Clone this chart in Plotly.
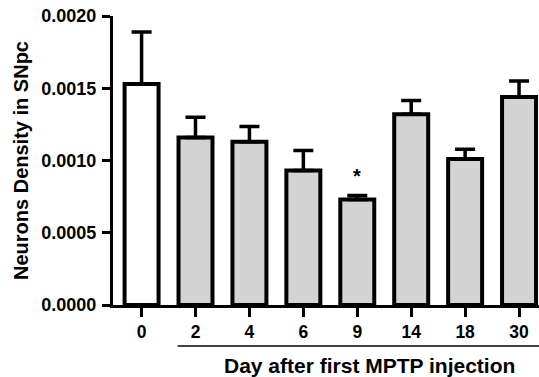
import plotly.graph_objects as go

days = ["0", "2", "4", "6", "9", "14", "18", "30"]
means = [0.00153, 0.00116, 0.00113, 0.00093, 0.00073, 0.00132, 0.00101, 0.00144]
errs = [0.00036, 0.00014, 0.000105, 0.00014, 0.000027, 0.000095, 0.000068, 0.00011]
fills = ["#ffffff"] + ["#d3d3d3"] * 7
y_ticks = [0, 0.0005, 0.0010, 0.0015, 0.0020]
y_ticktext = ["0.0000", "0.0005", "0.0010", "0.0015", "0.0020"]
sig_index = 4

FONT = "Liberation Sans, Arial, sans-serif"

fig = go.Figure()
fig.add_trace(go.Bar(
    x=days, y=means, width=0.63,
    marker=dict(color=fills, line=dict(color="black", width=4)),
    error_y=dict(type="data", array=errs, arrayminus=[0] * len(errs), symmetric=False,
                 color="black", thickness=3.5, width=10),
    cliponaxis=False,
))

fig.update_layout(
    width=539, height=377,
    margin=dict(l=113, r=0, t=16, b=72),
    plot_bgcolor="white", paper_bgcolor="white",
    showlegend=False,
    font=dict(family=FONT, size=17, color="black", weight="bold"),
    xaxis=dict(type="category", range=[-0.53, 7.37], showline=True, linecolor="black", linewidth=3,
               ticks="outside", ticklen=9, tickwidth=3, tickcolor="black",
               tickfont=dict(family=FONT, size=17.5, weight="bold"), showgrid=False, zeroline=False),
    yaxis=dict(range=[0, 0.002], tickvals=y_ticks, ticktext=y_ticktext, showline=True,
               linecolor="black", linewidth=3, ticks="outside", ticklen=8, tickwidth=3,
               tickcolor="black", tickfont=dict(family=FONT, size=18, weight="bold"),
               showgrid=False, zeroline=False, ticklabelstandoff=2,
               title=dict(text="Neurons Density in SNpc", font=dict(family=FONT, size=20, weight="bold"),
                          standoff=8)),
)

fig.add_annotation(x=sig_index, y=means[sig_index] + errs[sig_index], xref="x", yref="y",
                   text="*", showarrow=False, yshift=20, yanchor="middle",
                   font=dict(family=FONT, size=20, weight="bold"))

fig.add_shape(type="line", xref="x", yref="paper", x0=0.67, x1=7.37, y0=-0.142, y1=-0.142,
              line=dict(color="black", width=1.5))

fig.add_annotation(x=4.22, y=-0.211, xref="x", yref="paper", text="Day after first MPTP injection",
                   showarrow=False, yanchor="middle", xanchor="center",
                   font=dict(family=FONT, size=21, weight="bold"))

fig.write_html("out.html", config={"displayModeBar": False},
               post_script="document.body.style.margin='0';")
